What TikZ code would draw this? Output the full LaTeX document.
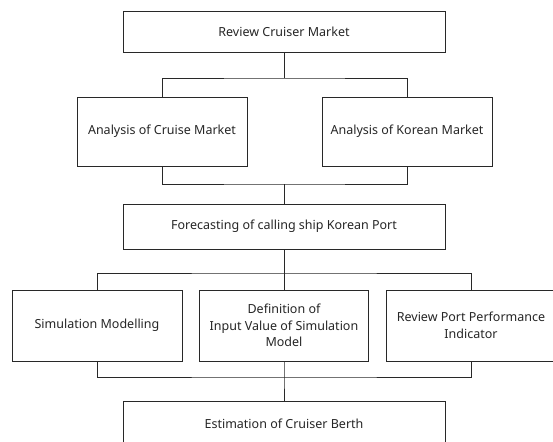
\documentclass[tikz,border=0pt]{standalone}
\usepackage{fontspec}
\setmainfont{Noto Sans}
\usepackage{xcolor}
\definecolor{linegray}{RGB}{40,40,40}
\usetikzlibrary{positioning}

\begin{document}
\begin{tikzpicture}[
  x=1pt,y=-1pt,
  box/.style={rectangle,draw=linegray,line width=0.9pt,fill=white,
    minimum width=170pt,minimum height=70pt,inner sep=2pt,
    align=center,text=black!85,font=\fontsize{12.5}{16.5}\selectfont},
  wide/.style={box,minimum width=322pt},
  line/.style={draw=linegray,line width=0.9pt}
]
  \useasboundingbox (0,0) rectangle (553,441);
  \clip (0,0) rectangle (553,441);
  % level 1
  \node[wide,minimum height=41pt] (top) at (284,31.5) {Review Cruiser Market};
  % level 2
  \node[box,minimum height=69pt] (cruise) at (162,131.5) {Analysis of Cruise Market};
  \node[box,minimum height=69pt] (korean) at (407,131.5) {Analysis of Korean Market};
  % level 3
  \node[wide,minimum height=45pt] (forecast) at (284,226.5)
    {Forecasting of calling ship Korean Port};
  % level 4
  \node[box,minimum height=71pt] (simul) at (97,325.5) {Simulation Modelling};
  \node[box,minimum height=71pt,minimum width=169pt] (defin) at (284,325.5)
    {Definition of\\Input Value of Simulation\\Model};
  \node[box,minimum height=71pt] (review) at (471,325.5)
    {Review Port Performance\\Indicator};
  % level 5
  \node[wide,minimum height=46pt] (berth) at (284,424) {Estimation of Cruiser Berth};

  % junctions
  \coordinate (j1) at (284,78);
  \coordinate (j2) at (284,184);
  \coordinate (j3) at (284,273);
  \coordinate (j4) at (284,377);

  \draw[line] (top) -- (j1);
  \draw[line] (cruise.north) |- (j1) -| (korean.north);
  \draw[line] (cruise.south) |- (j2) -| (korean.south);
  \draw[line] (j2) -- (forecast);
  \draw[line] (forecast) -- (j3);
  \draw[line] (simul.north) |- (j3) -| (review.north);
  \draw[line] (j3) -- (defin);
  \draw[line] (simul.south) |- (j4) -| (review.south);
  \draw[line] (defin) -- (j4) -- (berth);
\end{tikzpicture}
\end{document}
